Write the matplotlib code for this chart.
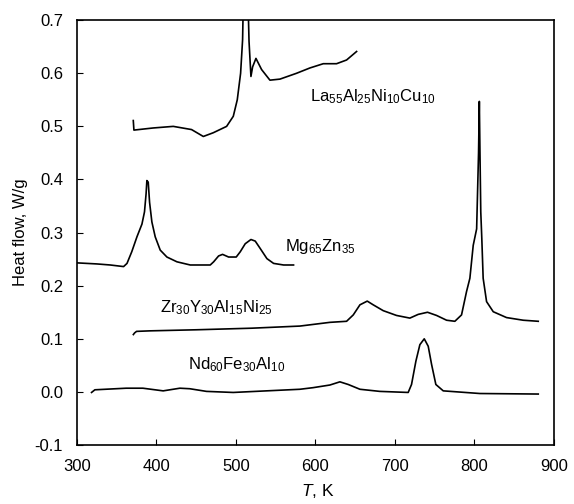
import matplotlib
matplotlib.use('Agg')
import matplotlib.pyplot as plt

plt.rcParams['font.family'] = ['Liberation Sans', 'DejaVu Sans']
plt.rcParams['mathtext.fontset'] = 'custom'
plt.rcParams['mathtext.rm'] = 'Liberation Sans'
plt.rcParams['mathtext.it'] = 'Liberation Sans:italic'

# La55Al25Ni10Cu10 curve (goes off the top near 510 K)
la_T = [370.9, 371.7, 396, 421.2, 444.2, 459, 471.5, 488.3, 496.7, 501.7, 505.9, 508.4,
        509.5, 515, 516.5, 518.9, 521, 525.2, 532.3, 542.8, 555.4, 576.3, 593.1,
        609.9, 626.6, 639.2, 651.8]
la_v = [0.511, 0.493, 0.497, 0.500, 0.494, 0.481, 0.488, 0.500, 0.519, 0.550, 0.600,
        0.663, 0.75, 0.75, 0.66, 0.594, 0.612, 0.628, 0.607, 0.587, 0.589, 0.600,
        0.610, 0.618, 0.618, 0.625, 0.641]

# Mg65Zn35 curve
mg_T = [300, 325, 342, 358.7, 363, 369, 375.5, 381.8, 385, 387, 388, 389.7, 391.4, 394.3,
        398.5, 404.8, 413.2, 425.8, 442.6, 467.7, 472, 478.2, 483.2, 490.8, 500.4, 505.5,
        511.7, 518.9, 524.3, 530.6, 539, 547.4, 560, 572.5]
mg_v = [0.243, 0.241, 0.239, 0.236, 0.242, 0.264, 0.292, 0.316, 0.339, 0.373, 0.398,
        0.395, 0.357, 0.320, 0.292, 0.267, 0.254, 0.245, 0.239, 0.239, 0.245, 0.256,
        0.259, 0.254, 0.254, 0.264, 0.279, 0.287, 0.284, 0.270, 0.251, 0.242, 0.239,
        0.239]

# Zr30Y30Al15Ni25 curve
zr_T = [371, 372.5, 375, 392, 450, 520, 580.5, 618.2, 639.2, 647.6, 656, 665.2, 672.7,
        685.3, 702, 718.8, 729.3, 741, 752.4, 765, 775.4, 783.8, 790.1, 794.3, 798.5,
        802.8, 805.2, 806.2, 807, 808, 809.3, 811, 815.3, 823.7, 840.4, 861.4, 880.3]
zr_v = [0.108, 0.111, 0.114, 0.115, 0.117, 0.120, 0.124, 0.131, 0.133, 0.145, 0.164,
        0.171, 0.164, 0.153, 0.144, 0.139, 0.146, 0.150, 0.144, 0.135, 0.133, 0.145,
        0.189, 0.214, 0.276, 0.307, 0.45, 0.547, 0.45, 0.339, 0.289, 0.214, 0.170,
        0.151, 0.140, 0.135, 0.133]

# Nd60Fe30Al10 curve
nd_T = [318.4, 322.6, 362, 383, 408.5, 429.5, 442, 463, 496.6, 538.5, 580.5, 597, 618.2,
        630.8, 641.3, 656, 681, 716.7, 720.9, 726.4, 731.4, 736.9, 741.9, 746.1, 751.5,
        760.8, 806.9, 880.3]
nd_v = [-0.001, 0.004, 0.007, 0.007, 0.002, 0.007, 0.006, 0.001, -0.001, 0.002, 0.005,
        0.008, 0.013, 0.019, 0.014, 0.005, 0.001, -0.001, 0.014, 0.058, 0.089, 0.100,
        0.086, 0.052, 0.014, 0.002, -0.003, -0.004]

labels = [r'$\mathregular{La_{55}Al_{25}Ni_{10}Cu_{10}}$',
          r'$\mathregular{Mg_{65}Zn_{35}}$',
          r'$\mathregular{Zr_{30}Y_{30}Al_{15}Ni_{25}}$',
          r'$\mathregular{Nd_{60}Fe_{30}Al_{10}}$']
label_T = [593, 562, 404, 440]
label_v = [0.556, 0.274, 0.158, 0.052]

fig = plt.figure(figsize=(5.74, 5.04), dpi=100)
ax = fig.add_axes([0.134, 0.117, 0.831, 0.843])

for T, v in [(la_T, la_v), (mg_T, mg_v), (zr_T, zr_v), (nd_T, nd_v)]:
    ax.plot(T, v, color='black', lw=1.2, solid_joinstyle='round')

for lab, tx, ty in zip(labels, label_T, label_v):
    ax.text(tx, ty, lab, fontsize=12, va='center', ha='left')

ax.set_xlim(300, 900)
ax.set_ylim(-0.1, 0.7)
ax.set_xticks(range(300, 901, 100))
ax.set_yticks([-0.1, 0.0, 0.1, 0.2, 0.3, 0.4, 0.5, 0.6, 0.7])
ax.set_yticklabels(['-0.1', '0.0', '0.1', '0.2', '0.3', '0.4', '0.5', '0.6', '0.7'])
ax.tick_params(direction='in', length=4, labelsize=12, pad=10, top=False, right=False)
for s in ax.spines.values():
    s.set_linewidth(1.2)

ax.set_ylabel('Heat flow, W/g', fontsize=12)
ax.set_xlabel(r'$\mathit{T}$, K', fontsize=12.5)
ax.yaxis.set_label_coords(-0.103, 0.5)
ax.xaxis.set_label_coords(0.505, -0.088)

fig.savefig('out.png', dpi=100)
